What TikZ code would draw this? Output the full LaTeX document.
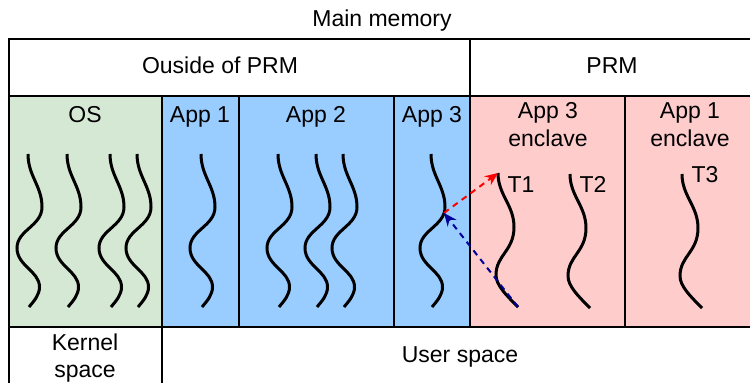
\documentclass[tikz,border=0pt]{standalone}
\usepackage{fontspec}
\setmainfont{Liberation Sans}
\usetikzlibrary{arrows.meta}

\definecolor{osgreen}{HTML}{D5E8D4}
\definecolor{appblue}{HTML}{99CCFF}
\definecolor{enclpink}{HTML}{FFCCCC}
\definecolor{callred}{HTML}{FF0000}
\definecolor{retblue}{HTML}{00009A}

\tikzset{
  cell/.style={draw=black, line width=2.8pt, anchor=north west,
               inner sep=0pt, outer sep=0pt},
  lbl/.style={font=\fontsize{23}{27}\selectfont, inner sep=0pt, anchor=base},
  threadline/.style={line width=3pt},
  callarrow/.style={draw=callred, line width=2pt, dash pattern=on 6pt off 5pt,
                    -{Stealth[length=13pt,width=11pt,fill=callred]}},
  retarrow/.style={draw=retblue, line width=2pt, dash pattern=on 6pt off 5pt,
                   -{Stealth[length=13pt,width=11pt,fill=retblue]}},
  % a thread of an ordinary process
  pics/appthread/.style={code={
    \coordinate (-top) at (0,0);
    \coordinate (-end) at (1,153);
    \draw[threadline] (-top)
      .. controls (0,22) and (14,32) .. (14,53)
      .. controls (14,72) and (-11,76) .. (-11,94)
      .. controls (-11,112) and (11.5,117) .. (11.5,133)
      .. controls (11.5,141) and (6,147) .. (-end);
  }},
  % a thread running inside an enclave
  pics/enclthread/.style={code={
    \coordinate (-top) at (0,0);
    \coordinate (-end) at (20,134);
    \draw[threadline] (-top)
      .. controls (0,22) and (16,32) .. (16,54)
      .. controls (16,78) and (-2,82) .. (-2,102)
      .. controls (-2,112) and (8,122) .. (-end);
  }},
}

\begin{document}
\begin{tikzpicture}[x=1pt, y=-1pt]
  \useasboundingbox (0,0) rectangle (750,383);
  \clip (0,0) rectangle (750,383);

  % header row
  \node[cell, minimum width=461pt, minimum height=57pt] (outside) at (9,39) {};
  \node[cell, minimum width=290pt, minimum height=57pt] (prm) at (470,39) {};

  % process columns
  \node[cell, fill=osgreen, minimum width=153pt, minimum height=231pt] (os) at (9,96) {};
  \node[cell, fill=appblue, minimum width=77pt, minimum height=231pt] (app1) at (162,96) {};
  \node[cell, fill=appblue, minimum width=155pt, minimum height=231pt] (app2) at (239,96) {};
  \node[cell, fill=appblue, minimum width=76pt, minimum height=231pt] (app3) at (394,96) {};
  \node[cell, fill=enclpink, minimum width=155pt, minimum height=231pt] (encl3) at (470,96) {};
  \node[cell, fill=enclpink, minimum width=135pt, minimum height=231pt] (encl1) at (625,96) {};

  % address-space row
  \node[cell, minimum width=153pt, minimum height=80pt] (kernel) at (9,327) {};
  \node[cell, minimum width=598pt, minimum height=80pt] (user) at (162,327) {};

  % labels
  \node[lbl] (memT) at (382,26) {Main memory};
  \node[lbl] (outsideT) at (220,73) {Ouside of PRM};
  \node[lbl] (prmT) at (612,73) {PRM};
  \node[lbl] (osT) at (85,122) {OS};
  \node[lbl] (app1T) at (200,122) {App 1};
  \node[lbl] (app2T) at (316,122) {App 2};
  \node[lbl] (app3T) at (432,122) {App 3};
  \node[lbl] (encl3Ta) at (548,118) {App 3};
  \node[lbl] (encl3Tb) at (548,146) {enclave};
  \node[lbl] (encl1Ta) at (690,118) {App 1};
  \node[lbl] (encl1Tb) at (690,146) {enclave};
  \node[lbl] (kernelTa) at (85,350) {Kernel};
  \node[lbl] (kernelTb) at (85,377) {space};
  \node[lbl] (userT) at (460,362) {User space};

  % OS threads
  \pic (os1) at (28,154) {appthread};
  \pic (os2) at (67,154) {appthread};
  \pic (os3) at (110,154) {appthread};
  \pic (os4) at (137,154) {appthread};

  % application threads
  \pic (a1) at (201,154) {appthread};
  \pic (a2x) at (278,154) {appthread};
  \pic (a2y) at (316,154) {appthread};
  \pic (a2z) at (343,154) {appthread};
  \pic (a3) at (431,154) {appthread};

  % enclave threads
  \pic (t1) at (498,173) {enclthread};
  \pic (t2) at (570,174) {enclthread};
  \pic (t3) at (682,174) {enclthread};
  \node[lbl] (t1T) at (521,192) {T1};
  \node[lbl] (t2T) at (593,192) {T2};
  \node[lbl] (t3T) at (705,182) {T3};

  % enclave entry and exit
  \coordinate (a3hit) at (444,213);
  \draw[callarrow] (a3hit) -- (t1-top);
  \draw[retarrow] (t1-end) -- (a3hit);
\end{tikzpicture}
\end{document}
